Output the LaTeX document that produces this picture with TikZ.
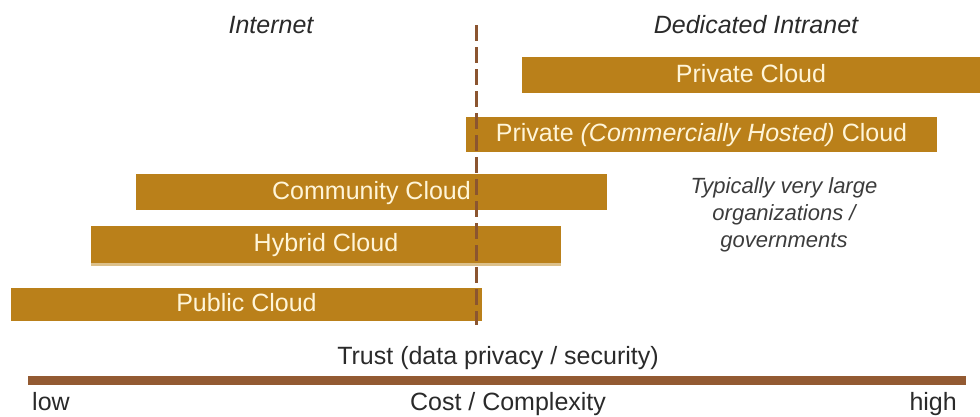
\documentclass[tikz,border=0pt]{standalone}
\usepackage{fontspec}
\setmainfont{Liberation Sans}
\definecolor{barfill}{HTML}{BA801A}
\definecolor{bartext}{HTML}{FFF5D8}
\definecolor{barshade}{HTML}{DCC08A}
\definecolor{divider}{HTML}{8B5530}
\definecolor{axiscol}{HTML}{935A32}
\definecolor{labeltext}{HTML}{2A2A2A}
\definecolor{notetext}{HTML}{3C3C3C}
\tikzset{
  bar/.style={fill=barfill, text=bartext, inner sep=0pt, anchor=center,
    font=\fontsize{25}{30}\selectfont, text height=17.9pt, text depth=3pt},
  zone/.style={inner sep=0pt, anchor=base, text=labeltext,
    font=\fontsize{25}{30}\selectfont\itshape},
  note/.style={inner sep=0pt, align=center, text=notetext,
    font=\fontsize{22}{27}\selectfont\itshape},
  axislabel/.style={inner sep=0pt, text=labeltext,
    font=\fontsize{25}{30}\selectfont},
  trustline/.style={divider, line width=3pt, dash pattern=on 16pt off 6pt},
  axisbar/.style={axiscol, line width=9pt, line cap=butt},
}
\begin{document}
\begin{tikzpicture}[x=1pt,y=-1pt]
\path[use as bounding box] (0,0) rectangle (980,416);

% zone headings
\node[zone] (internet) at (271,33) {Internet};
\node[zone] (intranet) at (756,33) {Dedicated Intranet};

% deployment models
\node[bar, minimum width=458pt, minimum height=36pt] (private) at (751,75) {Private Cloud};
\node[bar, minimum width=471pt, minimum height=35pt] (hosted) at (701.5,134.5)
  {Private \textit{(Commercially Hosted)} Cloud};
\node[bar, minimum width=471pt, minimum height=36pt] (community) at (371.5,192) {Community Cloud};
\node[bar, minimum width=470pt, minimum height=37pt] (hybrid) at (326,244.5) {Hybrid Cloud};
\fill[barshade] (hybrid.south west) rectangle ([yshift=-3pt]hybrid.south east);
\node[bar, minimum width=471pt, minimum height=33pt] (public) at (246.5,304.5) {Public Cloud};

% note on private deployments
\node[note] (typical) at (784,215.3) {Typically very large\\organizations /\\governments};

% boundary between internet and intranet
\coordinate (divtop) at (476,25);
\coordinate (divbot) at (476,325);
\draw[trustline] (divtop) -- (divbot);

% trust axis
\node[axislabel, anchor=base] (trust) at (498,364) {Trust (data privacy / security)};
\coordinate (axleft) at (28,380.5);
\coordinate (axright) at (966,380.5);
\draw[axisbar] (axleft) -- (axright);
\node[axislabel, anchor=base west] (low) at (32,410) {low};
\node[axislabel, anchor=base] (cost) at (508,410) {Cost / Complexity};
\node[axislabel, anchor=base east] (high) at (957,410) {high};
\end{tikzpicture}
\end{document}
